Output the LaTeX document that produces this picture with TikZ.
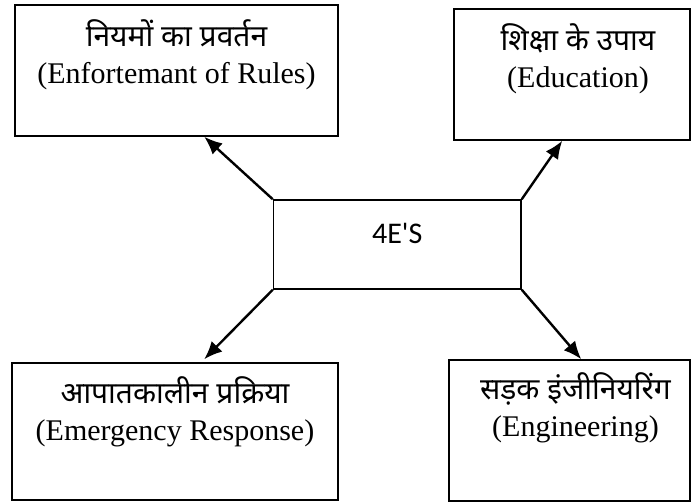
\documentclass[tikz,border=0pt]{standalone}
\usepackage{fontspec}
\setmainfont{Liberation Serif}
\newfontfamily\hindifont[Script=Devanagari]{Noto Sans}
\newfontfamily\hubfont{Carlito}
\usepackage{tikz}
\usetikzlibrary{arrows.meta,positioning,calc}
\tikzset{box/.style={draw,line width=1.5pt,inner sep=0pt},hub label/.style={font=\hubfont\fontsize{30}{36}\selectfont},
	box label/.style={align=center,inner sep=0pt,font=\fontsize{30}{37}\selectfont},link/.style={line width=2.4pt,-{Latex[length=18pt,width=15pt]}}}

\begin{document}
\begin{tikzpicture}[x=1pt,y=1pt]
				\useasboundingbox (0,0) rectangle (691,502);
				\node[box,minimum width=323pt,minimum height=131pt] (rules) at (176.5,431.5) {};
				\node[box,minimum width=236pt,minimum height=131pt] (edu) at (572,427.5) {};
				\node[box,minimum width=247.5pt,minimum height=89pt] (hub) at (397.25,257.5) {};
				\node[box,minimum width=326pt,minimum height=137pt] (emer) at (175,70.5) {};
				\node[box,minimum width=241pt,minimum height=141pt] (engg) at (569.5,71.5) {};
				\node[hub label] (hubtext) at ([yshift=11pt]hub.center) {4E'S};
				\node[box label] (rulestext) at ([yshift=-51pt]rules.north) {{\hindifont नियमों का प्रवर्तन}\\(Enfortemant of Rules)};
				\node[box label] (edutext) at ([xshift=6pt,yshift=-51pt]edu.north) {{\hindifont शिक्षा के उपाय}\\(Education)};
				\node[box label] (emertext) at ([yshift=-50pt]emer.north) {{\hindifont आपातकालीन प्रक्रिया}\\(Emergency Response)};
				\node[box label] (enggtext) at ([xshift=6pt,yshift=-49pt]engg.north) {{\hindifont सड़क इंजीनियरिंग}\\(Engineering)};
				\draw[link] (hub.north west) -- ([xshift=190pt]rules.south west);
				\draw[link] (hub.north east) -- ([xshift=109pt]edu.south west);
				\draw[link] (hub.south west) -- ([xshift=193pt,yshift=3pt]emer.north west);
				\draw[link] (hub.south east) -- ([xshift=133pt]engg.north west);
			\end{tikzpicture}
\end{document}
